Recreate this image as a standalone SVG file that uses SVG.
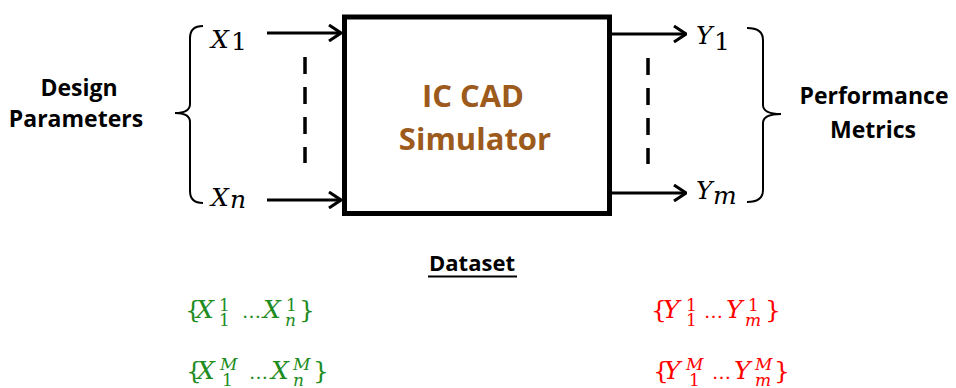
<svg xmlns="http://www.w3.org/2000/svg" width="956" height="388" viewBox="0 0 956 388">
<defs>
<style>
.lbl{font-family:"Open Sans","Liberation Sans",sans-serif;font-weight:bold;fill:#000;text-anchor:middle}
.core{font-family:"Open Sans","Liberation Sans",sans-serif;font-weight:bold;fill:#9c5a1c;font-size:31px;text-anchor:middle}
.m{font-family:"DejaVu Serif","Liberation Serif",serif;font-size:25px}
.mi{font-family:"DejaVu Serif","Liberation Serif",serif;font-size:25px;font-style:italic}
.d{font-family:"DejaVu Serif","Liberation Serif",serif;font-size:19px}
.s{font-family:"DejaVu Serif","Liberation Serif",serif;font-size:17px}
.si{font-family:"DejaVu Serif","Liberation Serif",serif;font-size:17px;font-style:italic}
.g{fill:#1e8c1e}
.r{fill:#ff0000}
.wire{stroke:#000;stroke-width:3;fill:none}
.dash{stroke:#000;stroke-width:3.5;stroke-dasharray:17 13;fill:none}
.brace{stroke:#000;stroke-width:2;fill:none}
</style>
<marker id="arr" viewBox="0 0 14 18" refX="13" refY="9" markerWidth="14" markerHeight="18" markerUnits="userSpaceOnUse" orient="auto">
<path d="M1,1 L13,9 L1,17" fill="none" stroke="#000" stroke-width="3"/>
</marker>
</defs>

<g id="simulator">
<rect x="344.5" y="17" width="265" height="196.5" fill="#fff" stroke="#000" stroke-width="5"/>
<text class="core" x="473" y="107">IC CAD</text>
<text class="core" x="475" y="150">Simulator</text>
</g>

<g id="design-parameters">
<path class="brace" d="M203,26 Q190,26 190,38 L190,104 Q190,113 175,113 Q190,113 190,122 L190,191 Q190,203 203,203"/>
<text class="lbl" font-size="23" x="79" y="96">Design</text>
<text class="lbl" font-size="23" x="76" y="127">Parameters</text>
</g>

<g id="performance-metrics">
<path class="brace" d="M747,28 Q763,28 763,40 L763,105 Q763,114 781,114 Q763,114 763,123 L763,190 Q763,202 747,202"/>
<text class="lbl" font-size="23" x="874" y="104">Performance</text>
<text class="lbl" font-size="23" x="873" y="138">Metrics</text>
</g>

<g id="input-labels">
<text class="mi" x="211" y="48">X</text><text class="m" font-size="19" x="231" y="50">1</text>
<text class="mi" x="211" y="206">X</text><text class="mi" font-size="19" x="230" y="208">n</text>
</g>

<g id="output-labels">
<text class="mi" x="696" y="44">Y</text><text class="m" font-size="19" x="714" y="50">1</text>
<text class="mi" x="696" y="199">Y</text><text class="mi" font-size="19" x="713" y="204">m</text>
</g>

<g id="connectors">
<line class="wire" x1="267" y1="33" x2="341" y2="33" marker-end="url(#arr)"/>
<line class="wire" x1="267" y1="200" x2="341" y2="200" marker-end="url(#arr)"/>
<line class="wire" x1="612" y1="34" x2="686" y2="34" marker-end="url(#arr)"/>
<line class="wire" x1="612" y1="193" x2="686" y2="193" marker-end="url(#arr)"/>
<line class="dash" x1="305" y1="57" x2="305" y2="163"/>
<line class="dash" x1="648" y1="58" x2="648" y2="164"/>
</g>

<g id="dataset">
<text class="lbl" font-size="22" x="472" y="271">Dataset</text>
<rect x="428" y="275.5" width="89" height="2" fill="#000"/>
</g>

<g id="dataset-inputs" class="g">
<text class="m g" x="185" y="318">{</text>
<text class="mi g" x="196" y="318">X</text>
<text class="s g" x="219" y="311">1</text>
<text class="s g" x="219" y="326">1</text>
<text class="d g" x="242" y="318">…</text>
<text class="mi g" x="263" y="318">X</text>
<text class="s g" x="286" y="311">1</text>
<text class="si g" x="285" y="326">n</text>
<text class="m g" x="299" y="318">}</text>

<text class="m g" x="186" y="379">{</text>
<text class="mi g" x="197" y="379">X</text>
<text class="si g" x="220" y="370">M</text>
<text class="s g" x="222" y="386">1</text>
<text class="d g" x="249" y="379">…</text>
<text class="mi g" x="271" y="379">X</text>
<text class="si g" x="293" y="370">M</text>
<text class="si g" x="293" y="386">n</text>
<text class="m g" x="313" y="379">}</text>
</g>

<g id="dataset-outputs" class="r">
<text class="m r" x="651" y="318">{</text>
<text class="mi r" x="663" y="318">Y</text>
<text class="s r" x="686" y="311">1</text>
<text class="s r" x="686" y="326">1</text>
<text class="d r" x="704" y="318">…</text>
<text class="mi r" x="726" y="318">Y</text>
<text class="s r" x="748" y="311">1</text>
<text class="si r" x="745" y="326">m</text>
<text class="m r" x="765" y="318">}</text>

<text class="m r" x="653" y="379">{</text>
<text class="mi r" x="664" y="379">Y</text>
<text class="si r" x="686" y="370">M</text>
<text class="s r" x="689" y="386">1</text>
<text class="d r" x="712" y="379">…</text>
<text class="mi r" x="734" y="379">Y</text>
<text class="si r" x="755" y="370">M</text>
<text class="si r" x="755" y="386">m</text>
<text class="m r" x="774" y="379">}</text>
</g>
</svg>
